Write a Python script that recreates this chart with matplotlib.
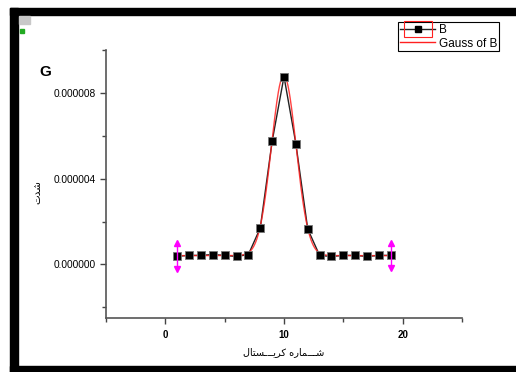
import numpy as np
import matplotlib
matplotlib.use("Agg")
import matplotlib.pyplot as plt
from matplotlib.patches import Rectangle
from matplotlib.ticker import FixedLocator, FormatStrFormatter

# ---- data ----
x_vals = [1, 2, 3, 4, 5, 6, 7, 8, 9, 10, 11, 12, 13, 14, 15, 16, 17, 18, 19]
b_vals = [0.38e-6, 0.42e-6, 0.42e-6, 0.46e-6, 0.42e-6, 0.37e-6, 0.46e-6, 1.70e-6,
          5.74e-6, 8.76e-6, 5.63e-6, 1.65e-6, 0.42e-6, 0.37e-6, 0.42e-6, 0.42e-6,
          0.37e-6, 0.42e-6, 0.42e-6]
err_x = [1, 19]
err_y = [0.38e-6, 0.42e-6]
err_size = [0.6e-6, 0.6e-6]
# Gaussian fit parameters
g_y0, g_xc, g_sigma, g_amp = 0.41e-6, 9.98, 1.04, 8.40e-6

x_ticks = [0, 10, 20]
y_ticks = [0.0, 4e-6, 8e-6]

plt.rcParams['font.family'] = ['Liberation Sans', 'DejaVu Sans']

W, H = 516, 372
fig = plt.figure(figsize=(W / 100, H / 100), dpi=100)
fig.patch.set_facecolor('white')

# frame bars (figure pixels)
def fig_rect(x0, y0, x1, y1, color):
    fig.patches.append(Rectangle((x0 / W, 1 - y1 / H), (x1 - x0) / W, (y1 - y0) / H,
                                 transform=fig.transFigure, color=color, zorder=0))

fig_rect(10, 8, W, 15, 'black')
fig_rect(10, 8, 18, H, 'black')
fig_rect(10, 366, W, H, 'black')
fig_rect(19, 16, 30, 24, '#c8c8c8')
fig_rect(20, 29, 24, 33, '#22aa22')

ax = fig.add_axes([106 / W, 1 - 318 / H, (462 - 106) / W, (318 - 50) / H])
ax.set_facecolor('none')

xs = np.linspace(min(x_vals), max(x_vals), 400)
gauss = g_y0 + g_amp * np.exp(-(xs - g_xc) ** 2 / (2 * g_sigma ** 2))

ax.plot(x_vals, b_vals, color='#222222', lw=1.0, zorder=2)
ax.plot(xs, gauss, color='#ff2020', lw=1.0, alpha=0.85, zorder=3)
ax.plot(x_vals, b_vals, ls='none', marker='s', ms=5.5, mfc='black', mec='#777777',
        mew=0.6, zorder=4)

# magenta error bars with arrow heads
for ex, ey, es in zip(err_x, err_y, err_size):
    ax.plot([ex, ex], [ey - es, ey + es], color='#ff00ff', lw=1.0, zorder=5)
    ax.plot([ex], [ey + es], marker='^', color='#ff00ff', ms=4, zorder=5)
    ax.plot([ex], [ey - es], marker='v', color='#ff00ff', ms=4, zorder=5)

ax.set_xlim(-5, 25)
ax.set_ylim(-2.5e-6, 1e-5)

for s in ['top', 'right']:
    ax.spines[s].set_visible(False)
for s in ['left', 'bottom']:
    ax.spines[s].set_color('#555555')
    ax.spines[s].set_linewidth(1.2)

ax.xaxis.set_major_locator(FixedLocator(x_ticks))
ax.xaxis.set_minor_locator(FixedLocator([-5, 5, 15, 25]))
ax.yaxis.set_major_locator(FixedLocator(y_ticks))
ax.yaxis.set_minor_locator(FixedLocator([-2e-6, 2e-6, 6e-6, 1e-5]))
ax.yaxis.set_major_formatter(FormatStrFormatter('%.6f'))
ax.tick_params(which='major', length=4, width=1, color='#444444')
ax.tick_params(which='minor', length=3, width=1, color='#444444')
ax.tick_params(axis='x', which='major', pad=4.5, labelsize=7)
ax.tick_params(axis='y', which='major', pad=3.5, labelsize=7.3)
for lab in ax.get_xticklabels():
    lab.set_fontweight('bold')

# legend
leg = ax.legend(
    handles=[
        plt.Line2D([], [], color='#222222', lw=1, marker='s', ms=4, mfc='black', mec='black'),
        plt.Line2D([], [], color='#ff2020', lw=1),
    ],
    labels=['B', 'Gauss of B'],
    loc='upper right', bbox_to_anchor=(499 / W, 1 - 22 / H), bbox_transform=fig.transFigure,
    borderaxespad=0, fancybox=False, framealpha=1, edgecolor='black', fontsize=8.5,
    handlelength=3.0, handletextpad=0.3, borderpad=0.15, labelspacing=0.15,
)
leg.get_frame().set_linewidth(0.8)

fig.canvas.draw()
h0 = leg.legend_handles[0]
bb = h0.get_window_extent(fig.canvas.get_renderer())
cx = (bb.x0 + bb.x1) / 2
cy = (bb.y0 + bb.y1) / 2
fig.patches.append(Rectangle(((cx - 14) / W, (cy - 8) / H), 28 / W, 16 / H,
                             transform=fig.transFigure, fill=False, edgecolor='#ff2020',
                             lw=0.8, zorder=10))

# texts
fig.text(45 / W, 1 - 72 / H, 'G', fontsize=11, fontweight='bold', ha='center', va='center')

xlabel_logical = '\uFEB7\u0640\u0640\u0640\uFEE4\uFE8E\uFEAD\uFEE9 \uFEDB\uFEAE\uFEF3\u0640\u0640\u0640\uFEB4\uFE98\uFE8E\uFEDD'
xlabel_visual = ''.join(reversed(xlabel_logical))
fig.text(284 / W, 1 - 352 / H, xlabel_visual, fontsize=7, ha='center', va='center',
         family=['DejaVu Sans'])

ylabel_logical = '\uFEB7\uFEAA\uFE95'
ylabel_visual = ''.join(reversed(ylabel_logical))
fig.text(37 / W, 1 - 192 / H, ylabel_visual, fontsize=7.5, rotation=90, ha='center',
         va='center', family=['DejaVu Sans'])

fig.savefig('out.png', dpi=100, facecolor='white')
